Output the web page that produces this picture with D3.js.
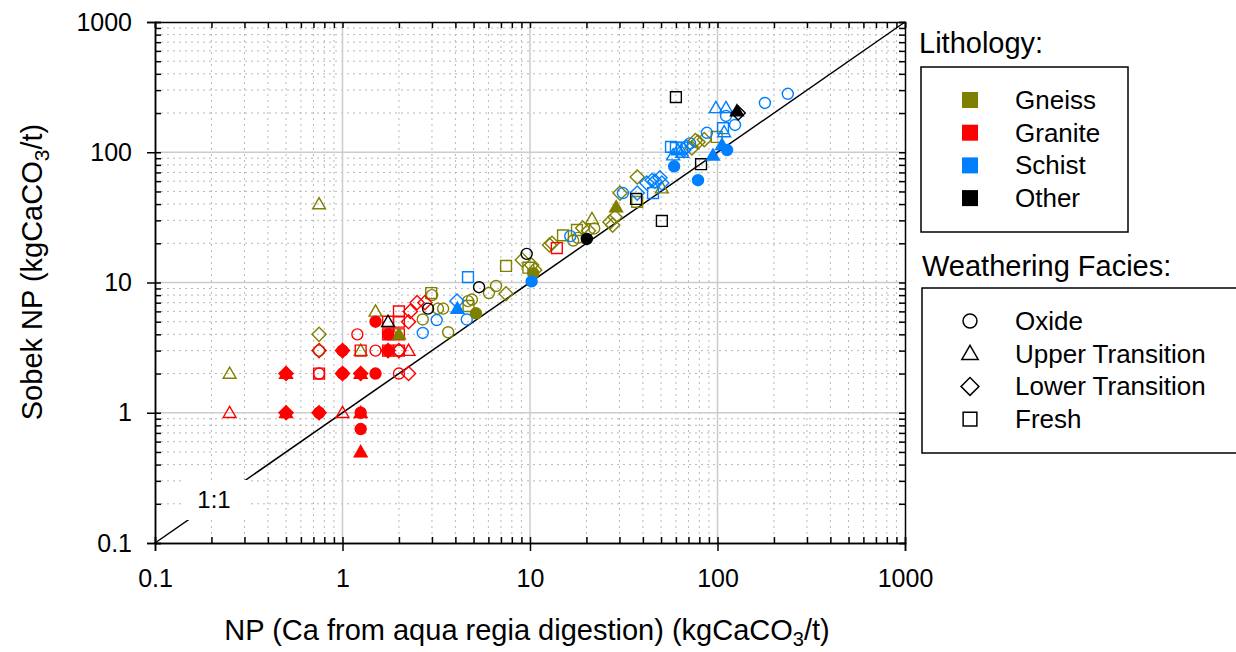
<!DOCTYPE html>
<html>
<head>
<meta charset="utf-8">
<script src="https://cdn.jsdelivr.net/npm/d3@7"></script>
<style>
  body { margin: 0; background: #fff; }
  svg text { font-family: "Liberation Sans", Arial, sans-serif; fill: #000; }
</style>
</head>
<body>
<div id="chart"></div>
<script>
// lithology + facies categories
const lithologies = ["Gneiss", "Granite", "Schist", "Other"]
const facies = ["Oxide", "Upper Transition", "Lower Transition", "Fresh"]
const faciesCodes = ["O", "U", "L", "F"]
const majorTicks = [0.1, 1, 10, 100, 1000]
const tickLabels = ["0.1", "1", "10", "100", "1000"]

// [NP aqua regia, Sobek NP, facies code, filled]
const gneiss = [
    [0.75, 40, "U", 0], [0.25, 2, "U", 0], [0.75, 4, "L", 0], [0.75, 3, "O", 0], [1.25, 3, "U", 0],
    [1.5, 6, "U", 0], [1.8, 4, "O", 0], [2, 4, "U", 1], [2, 3, "O", 0], [2.97, 8.3, "F", 0],
    [3.0, 8, "O", 0], [3.23, 6.3, "O", 0], [3.44, 6.3, "O", 0], [2.68, 5.2, "O", 0], [3.66, 4.15, "O", 0],
    [4.67, 7.2, "O", 0], [4.9, 7.4, "O", 0], [4.7, 6.6, "F", 0], [5.15, 5.8, "O", 1], [6.04, 8.3, "O", 0],
    [6.59, 9.4, "O", 0], [7.45, 8.2, "L", 0], [7.45, 13.4, "F", 0], [9.1, 14.9, "L", 0], [10.2, 13.6, "L", 0],
    [10.6, 12.5, "L", 0], [9.8, 13, "F", 0], [10.4, 11.8, "O", 1], [13.1, 20, "L", 0], [12.7, 19.4, "L", 0],
    [15, 23, "F", 0], [17.8, 25.3, "F", 0], [19.1, 26.2, "L", 0], [18, 22, "O", 0], [17, 21, "O", 0],
    [21.4, 30.8, "U", 0], [20.5, 25, "L", 0], [22, 26, "O", 0], [26.7, 29.1, "L", 0], [28.4, 31.8, "L", 0],
    [27.6, 27.6, "L", 0], [28.8, 38, "U", 1], [30.2, 48.6, "L", 0], [37.3, 64.6, "L", 0], [37.3, 41.6, "F", 0],
    [50.5, 53, "U", 0], [76.2, 123, "L", 0], [78.7, 120, "L", 0], [73, 108, "L", 0], [99, 131, "F", 0],
    [85, 125, "L", 0]
]
const granite = [
    [0.5, 2, "L", 1], [0.5, 2, "U", 1], [0.5, 1, "L", 1], [0.5, 1, "U", 1], [0.75, 1, "L", 1],
    [0.75, 1, "O", 1], [1, 3, "L", 1], [1, 3, "O", 1], [1, 2, "L", 1], [1, 2, "O", 1],
    [1.25, 2, "U", 1], [1.25, 2, "L", 1], [1.25, 1, "O", 1], [1.25, 1, "U", 1], [1.25, 0.75, "O", 1],
    [1.25, 0.5, "U", 1], [1.5, 5, "O", 1], [1.5, 2, "O", 1], [1.75, 3, "O", 1], [1.75, 3, "L", 1],
    [1.75, 4, "O", 1], [0.25, 1, "U", 0], [0.75, 2, "F", 0], [0.75, 2, "O", 0], [0.75, 3, "L", 0],
    [1, 1, "U", 0], [1.2, 4, "O", 0], [1.25, 3, "F", 0], [1.5, 3, "O", 0], [1.75, 3, "F", 0],
    [1.75, 4, "F", 0], [1.75, 5, "F", 0], [2, 5, "F", 0], [2, 4, "F", 0], [2, 6, "F", 0],
    [2, 3, "F", 0], [2, 2, "O", 0], [2.25, 3, "U", 0], [2.25, 2, "L", 0], [2.25, 5, "L", 0],
    [2.3, 6, "L", 0], [2.5, 7, "L", 0], [2.75, 7, "L", 0], [2, 3, "L", 0], [13.9, 18.4, "F", 0]
]
const schist = [
    [2.68, 4.1, "O", 0], [3.18, 5.15, "O", 0], [4.67, 11, "F", 0], [4.08, 7.2, "L", 0], [4.1, 6.3, "U", 1],
    [4.6, 5.2, "O", 0], [10.2, 10.2, "O", 1], [16.4, 22.7, "O", 0], [31.3, 48.6, "O", 0], [37.3, 48.6, "L", 0],
    [42, 58, "L", 0], [46.4, 60, "L", 0], [50.5, 58, "L", 0], [45.3, 48.6, "F", 0], [44.8, 61, "L", 0],
    [49.3, 63.6, "L", 0], [56.5, 110, "F", 0], [64.7, 108.6, "F", 0], [58, 95, "U", 0], [61.5, 104, "U", 0],
    [64.8, 99.6, "U", 0], [68, 110, "L", 0], [71.4, 117, "O", 0], [87.8, 141, "O", 0], [107, 153, "F", 0],
    [108.5, 143, "U", 0], [98, 219, "U", 0], [111, 219, "U", 0], [111, 190, "O", 0], [124, 162, "O", 0],
    [179, 239, "O", 0], [237, 281, "O", 0], [58.7, 78, "O", 1], [78.7, 61, "O", 1], [94.6, 94.6, "U", 1],
    [105.7, 113.8, "U", 1], [112.5, 104, "O", 1], [60, 108, "F", 0], [66, 104, "L", 0]
]
const other = [
    [1.75, 5, "U", 0], [2.86, 6.3, "O", 0], [5.35, 9.2, "O", 0], [9.6, 16.6, "O", 0], [20.1, 21.6, "O", 1],
    [36.8, 43.8, "F", 0], [50.5, 29.7, "F", 0], [60, 265, "F", 0], [81.7, 81, "F", 0], [127, 207, "U", 1],
    [129, 200, "L", 0]
]

const width = 1236, height = 652
const plot = { left: 155, right: 905, top: 22, bottom: 543 }

const svg = d3.select("#chart").append("svg")
    .attr("width", width)
    .attr("height", height)

const x = d3.scaleLog().domain([0.1, 1000]).range([plot.left, plot.right])
const y = d3.scaleLog().domain([0.1, 1000]).range([plot.bottom, plot.top])

const color = d3.scaleOrdinal().domain(lithologies).range(["#808000", "#ff0000", "#0080ff", "#000000"])

// minor tick positions
var minorTicks = []
majorTicks.slice(0, 4).forEach(function (d) {
    for (let k = 2; k <= 9; k++) minorTicks.push(d * k)
})

// grid
const grid = svg.append("g")
grid.selectAll(".minorx").data(minorTicks).enter().append("line")
    .attr("x1", d => x(d)).attr("x2", d => x(d))
    .attr("y1", plot.top).attr("y2", plot.bottom)
    .attr("stroke", "#b8b8b8").attr("stroke-dasharray", "2,4")
grid.selectAll(".minory").data(minorTicks).enter().append("line")
    .attr("y1", d => y(d)).attr("y2", d => y(d))
    .attr("x1", plot.left).attr("x2", plot.right)
    .attr("stroke", "#b8b8b8").attr("stroke-dasharray", "2,4")
grid.selectAll(".majorx").data(majorTicks.slice(1, 4)).enter().append("line")
    .attr("x1", d => x(d)).attr("x2", d => x(d))
    .attr("y1", plot.top).attr("y2", plot.bottom)
    .attr("stroke", "#cccccc").attr("stroke-width", 1.5)
grid.selectAll(".majory").data(majorTicks.slice(1, 4)).enter().append("line")
    .attr("y1", d => y(d)).attr("y2", d => y(d))
    .attr("x1", plot.left).attr("x2", plot.right)
    .attr("stroke", "#cccccc").attr("stroke-width", 1.5)

// 1:1 line
svg.append("line")
    .attr("x1", x(0.1)).attr("y1", y(0.1))
    .attr("x2", x(1000)).attr("y2", y(1000))
    .attr("stroke", "#000").attr("stroke-width", 1.5)

// label mask for 1:1
svg.append("rect")
    .attr("x", 182).attr("y", 480).attr("width", 68).attr("height", 40)
    .attr("fill", "#fff")
svg.append("text")
    .attr("x", 214).attr("y", 508)
    .attr("text-anchor", "middle")
    .attr("font-size", 24)
    .text("1:1")

// symbols
function shapePath(code, s) {
    if (code === "O") return d3.symbol(d3.symbolCircle, 95 * s)()
    if (code === "U") return d3.symbol(d3.symbolTriangle, 72 * s)()
    if (code === "L") return d3.symbol(d3.symbolSquare, 100 * s)()
    return d3.symbol(d3.symbolSquare, 118 * s)()
}

var points = []
;[gneiss, granite, schist, other].forEach(function (arr, i) {
    arr.forEach(function (d) {
        points.push({ np: d[0], sobek: d[1], facies: d[2], filled: d[3], lith: lithologies[i] })
    })
})
// draw open markers first, filled on top
points.sort((a, b) => a.filled - b.filled)

svg.append("g")
    .selectAll("path")
    .data(points)
    .enter()
    .append("path")
    .attr("d", d => shapePath(d.facies, 1))
    .attr("transform", function (d) {
        let t = "translate(" + x(d.np) + "," + y(d.sobek) + ")"
        if (d.facies === "L") t += " rotate(45)"
        if (d.facies === "U") t += " translate(0,1)"
        return t
    })
    .attr("fill", d => d.filled ? color(d.lith) : "none")
    .attr("stroke", d => color(d.lith))
    .attr("stroke-width", 1.4)

// frame + axes
const frame = svg.append("g")
frame.append("g")
    .attr("transform", "translate(0," + plot.bottom + ")")
    .call(d3.axisBottom(x).tickValues(majorTicks).tickFormat((d, i) => tickLabels[i]).tickSize(8).tickPadding(18))
frame.append("g")
    .attr("transform", "translate(" + plot.left + ",0)")
    .call(d3.axisLeft(y).tickValues(majorTicks).tickFormat((d, i) => tickLabels[i]).tickSize(8).tickPadding(15))
frame.append("g")
    .attr("transform", "translate(0," + plot.bottom + ")")
    .call(d3.axisBottom(x).tickValues(minorTicks.concat(majorTicks)).tickFormat("").tickSize(-6))
frame.append("g")
    .attr("transform", "translate(" + plot.left + ",0)")
    .call(d3.axisLeft(y).tickValues(minorTicks.concat(majorTicks)).tickFormat("").tickSize(-6))
frame.append("g")
    .attr("transform", "translate(0," + plot.top + ")")
    .call(d3.axisTop(x).tickValues(minorTicks.concat(majorTicks)).tickFormat("").tickSize(-6))
frame.append("g")
    .attr("transform", "translate(" + plot.right + ",0)")
    .call(d3.axisRight(y).tickValues(minorTicks.concat(majorTicks)).tickFormat("").tickSize(-6))
frame.selectAll(".domain").attr("stroke-width", 1.5)
frame.selectAll(".tick line").attr("stroke-width", 1.5)
frame.selectAll(".tick text").attr("font-size", 25).attr("font-family", "Liberation Sans, Arial, sans-serif")

// axis titles
const yTitle = svg.append("text")
    .attr("transform", "translate(42,272) rotate(-90)")
    .attr("text-anchor", "middle")
    .attr("font-size", 29)
yTitle.append("tspan").text("Sobek NP (kgCaCO")
yTitle.append("tspan").attr("dy", 7).attr("font-size", 21).text("3")
yTitle.append("tspan").attr("dy", -7).text("/t)")

const xTitle = svg.append("text")
    .attr("x", 527).attr("y", 640)
    .attr("text-anchor", "middle")
    .attr("font-size", 29)
xTitle.append("tspan").text("NP (Ca from aqua regia digestion) (kgCaCO")
xTitle.append("tspan").attr("dy", 6).attr("font-size", 20).text("3")
xTitle.append("tspan").attr("dy", -6).text("/t)")

// legends
svg.append("text").attr("x", 919).attr("y", 53).attr("font-size", 29).text("Lithology:")
svg.append("rect")
    .attr("x", 921).attr("y", 67).attr("width", 207).attr("height", 165)
    .attr("fill", "none").attr("stroke", "#000").attr("stroke-width", 1.5)
const litho = svg.append("g").selectAll("g").data(lithologies).enter().append("g")
    .attr("transform", (d, i) => "translate(0," + (100 + i * 32.7) + ")")
litho.append("rect").attr("x", 962).attr("y", -8).attr("width", 16).attr("height", 16)
    .attr("fill", d => color(d))
litho.append("text").attr("x", 1015).attr("y", 9).attr("font-size", 26).text(d => d)

svg.append("text").attr("x", 922).attr("y", 276).attr("font-size", 29).text("Weathering Facies:")
svg.append("rect")
    .attr("x", 922).attr("y", 288).attr("width", 330).attr("height", 165)
    .attr("fill", "none").attr("stroke", "#000").attr("stroke-width", 1.5)
const fac = svg.append("g").selectAll("g").data(facies).enter().append("g")
    .attr("transform", (d, i) => "translate(970," + (321 + i * 32.7) + ")")
fac.append("path")
    .attr("d", (d, i) => shapePath(faciesCodes[i], 1.6))
    .attr("transform", (d, i) => i === 2 ? "rotate(45)" : (i === 1 ? "translate(0,1)" : ""))
    .attr("fill", "none").attr("stroke", "#000").attr("stroke-width", 1.5)
fac.append("text").attr("x", 45).attr("y", 9).attr("font-size", 26).text(d => d)
</script>
</body>
</html>
